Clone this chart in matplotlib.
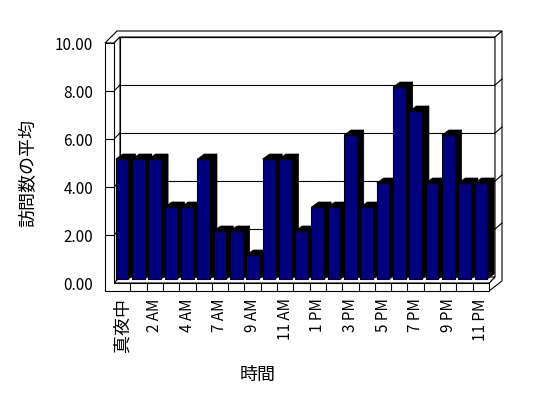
import matplotlib
matplotlib.use('Agg')
import matplotlib.pyplot as plt
import matplotlib.transforms as mtransforms
from matplotlib.patches import Polygon
from matplotlib.lines import Line2D
import numpy as np

plt.rcParams['font.family'] = ['Noto Sans CJK JP', 'DejaVu Sans']

# ---- data ----
categories = ['真夜中', '1 AM', '2 AM', '3 AM', '4 AM', '6 AM', '7 AM', '8 AM',
              '9 AM', '10 AM', '11 AM', '正午', '1 PM', '2 PM', '3 PM', '4 PM',
              '5 PM', '6 PM', '7 PM', '8 PM', '9 PM', '10 PM', '11 PM']
values = [5, 5, 5, 3, 3, 5, 2, 2, 1, 5, 5, 2, 3, 3, 6, 3, 4, 8, 7, 4, 6, 4, 4]
y_ticks = [0, 2, 4, 6, 8, 10]
y_label = '訪問数の平均'
x_label = '時間'

W, H = 548, 398
fig = plt.figure(figsize=(W / 100, H / 100), dpi=100)
fig.patch.set_facecolor('white')
ax = fig.add_axes([114 / W, (H - 283) / H, (489 - 114) / W, (283 - 43) / H])
n = len(categories)
ax.set_xlim(0, n)
ax.set_ylim(0, max(y_ticks))
ax.patch.set_visible(False)
for s in ax.spines.values():
    s.set_visible(False)

ident = mtransforms.IdentityTransform()


def D(x, y, dx=0, dy=0):
    p = ax.transData.transform((x, y))
    return (p[0] + dx, p[1] + dy)


def poly(pts, fc='white', ec='black', lw=0.8, z=1):
    p = Polygon(pts, closed=True, facecolor=fc, edgecolor=ec, linewidth=lw,
                transform=ident, zorder=z, clip_on=False)
    ax.add_patch(p)


def line(p1, p2, lw=0.8, z=1, c='black'):
    ax.add_line(Line2D([p1[0], p2[0]], [p1[1], p2[1]], color=c, linewidth=lw,
                       transform=ident, zorder=z, clip_on=False))


ymax = max(y_ticks)
BX, BY = 6, 6          # front plane -> back wall inner face
OX, OY = 13, 12        # front plane -> back wall outer face
LW_T = 9               # left wall thickness
FL_T = 8               # floor thickness

# back wall face
poly([D(0, 0, BX, BY), D(n, 0, BX, BY), D(n, ymax, BX, BY), D(0, ymax, BX, BY)], z=1)
for v in y_ticks:
    line(D(0, v, BX, BY), D(n, v, BX, BY), z=1.1)
# top of walls
poly([D(0, ymax, -LW_T, 0), D(0, ymax), D(0, ymax, BX, BY), D(n, ymax, BX, BY),
      D(n, ymax, OX, OY), D(0, ymax, 3, OY)], z=1.2)
# right side face of back wall / floor
poly([D(n, ymax, BX, BY), D(n, ymax, OX, OY), D(n, 0, OX, 2), D(n, 0, 0, -FL_T),
      D(n, 0), D(n, 0, BX, BY)], z=1.2)
for v in y_ticks[1:-1]:
    line(D(n, v, BX, BY), D(n, v, OX, OY), z=1.3)
# left wall inner face
poly([D(0, ymax), D(0, ymax, BX, BY), D(0, 0, BX, BY), D(0, 0)], z=1.2)
for v in y_ticks[1:-1]:
    line(D(0, v), D(0, v, BX, BY), z=1.3)
# floor top face
poly([D(0, 0), D(n, 0), D(n, 0, BX, BY), D(0, 0, BX, BY)], z=1.2)
# left wall front + floor front (L shape)
poly([D(0, ymax, -LW_T, 0), D(0, ymax), D(0, 0), D(n, 0), D(n, 0, 0, -FL_T),
      D(0, 0, -LW_T, -FL_T)], z=50)
for v in y_ticks[1:-1]:
    line(D(0, v, -LW_T, 0), D(0, v), z=51)
for k in range(1, n):
    line(D(k, 0), D(k, 0, 0, -FL_T), z=51)

# bars
bw = 0.775
bar_off = mtransforms.Affine2D().translate(0, 4)
SX, SY = 7, 5
xs = np.arange(n) + 0.5
bars = ax.bar(xs, values, width=bw, color='#000080', edgecolor='black', linewidth=0.8)
for k, (b, v) in enumerate(zip(bars, values)):
    b.set_transform(ax.transData + bar_off)
    b.set_zorder(11 + 2 * k)
    b.set_clip_on(False)
    xl, xr = xs[k] - bw / 2, xs[k] + bw / 2
    poly([D(xr, 0, 0, 4), D(xr, v, 0, 4), D(xr, v, SX, 4 + SY), D(xr, 0, SX, 4 + SY)],
         fc='black', ec='black', lw=0.5, z=10 + 2 * k)
    poly([D(xl, v, 0, 4), D(xr, v, 0, 4), D(xr, v, SX, 4 + SY), D(xl, v, SX, 4 + SY)],
         fc='black', ec='black', lw=0.5, z=10 + 2 * k)

# ticks and labels
ax.set_yticks(y_ticks)
ax.set_yticklabels([f'{v:.2f}' for v in y_ticks], fontsize=11)
ax.tick_params(axis='y', length=0, pad=15)
idx = list(range(0, n, 2))
ax.set_xticks(xs[idx])
ax.set_xticklabels([categories[i] for i in idx], rotation=90, va='top', ha='center', fontsize=11)
ax.tick_params(axis='x', length=0, pad=11)
for t in ax.get_xticklabels():
    if not t.get_text()[0].isdigit():
        t.set_fontsize(13)

fig.text(28 / W, 1 - 173 / H, y_label, rotation=90, ha='center', va='center', fontsize=13)
fig.text(258 / W, 1 - 375 / H, x_label, ha='center', va='center', fontsize=13)

fig.savefig('out.png', dpi=100, facecolor='white')
